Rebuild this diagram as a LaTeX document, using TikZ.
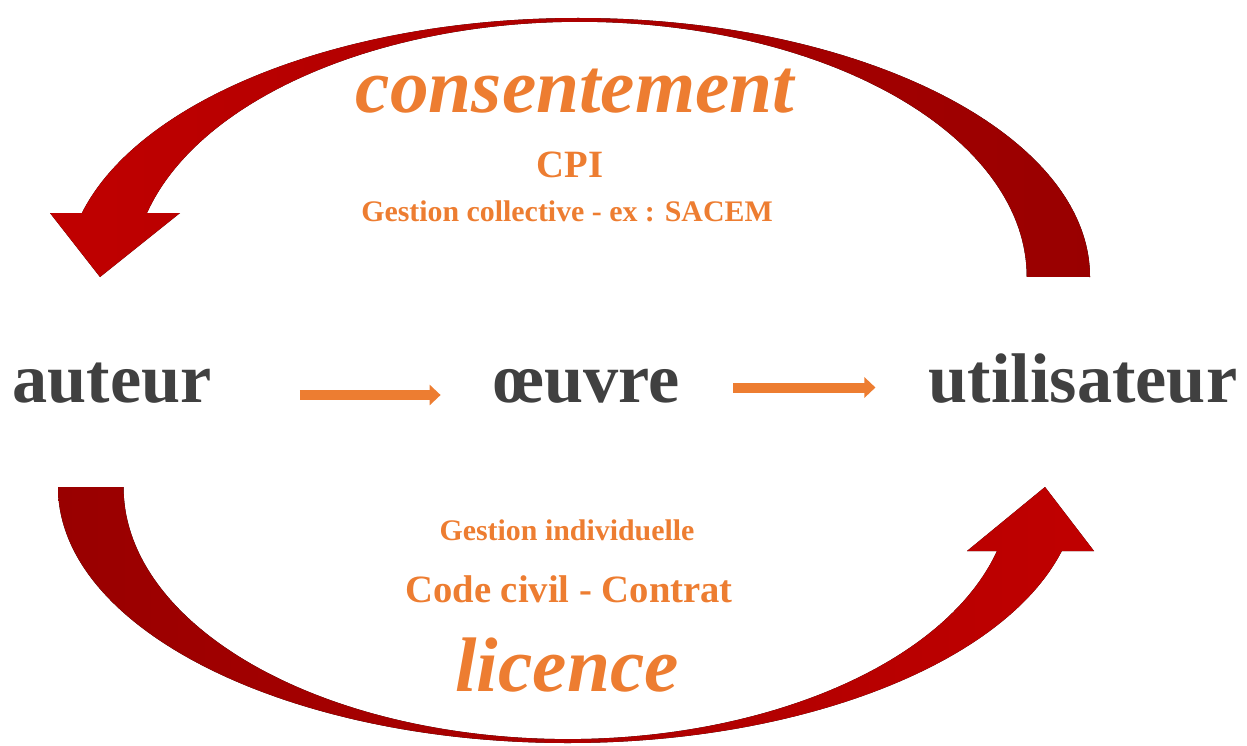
\documentclass[tikz,border=0pt]{standalone}
\usepackage{fontspec}
\setmainfont{Liberation Serif}
\usetikzlibrary{arrows.meta}
\definecolor{arcred}{RGB}{192,0,0}
\definecolor{arcdark}{RGB}{153,0,0}
\definecolor{flow}{RGB}{237,125,49}
\definecolor{ink}{RGB}{64,64,64}
\tikzset{
  party/.style={inner sep=0pt, anchor=base, text=ink, font=\fontsize{40}{48}\selectfont\bfseries},
  term/.style={inner sep=0pt, anchor=base, text=flow, font=\fontsize{44}{52}\selectfont\bfseries\itshape},
  note/.style={inner sep=0pt, anchor=base, text=flow, font=\fontsize{17}{20}\selectfont\bfseries},
  flowline/.style={color=flow, line width=0.2cm, -{Triangle[length=0.22cm,width=0.4cm]}},
}
\begin{document}
\begin{tikzpicture}[x=0.02cm,y=0.02cm]
  \useasboundingbox (0,0) rectangle (1247,745);

  \fill[left color=arcred, right color=arcdark]
    (1090,468) arc[start angle=0, end angle=165.7, x radius=512, y radius=259]
    -- (50,532) -- (100,468) -- (180,532) -- (147,532)
    arc[start angle=165.5, end angle=0, x radius=447, y radius=255] -- cycle;
  \fill[left color=arcdark, right color=arcred]
    (58,258) arc[start angle=180, end angle=345.5, x radius=510, y radius=256]
    -- (1094,194) -- (1045,258) -- (967,194) -- (997,194)
    arc[start angle=345.3, end angle=180, x radius=444, y radius=252] -- cycle;

  \node[party] (A) at (112,343) {auteur};
  \node[party] (O) at (587,343) {œuvre};
  \node[party] (U) at (1083,343) {utilisateur};

  \node[term] (C) at (575,632) {consentement};
  \node[note, font=\fontsize{22}{26}\selectfont\bfseries] (P) at (570,567) {CPI};
  \node[note] (G) at (567,523) {Gestion collective - ex : SACEM};

  \node[note] (I) at (567,205) {Gestion individuelle};
  \node[note, font=\fontsize{22}{26}\selectfont\bfseries] (K) at (569,143) {Code civil - Contrat};
  \node[term] (L) at (567,54) {licence};

  \path[flowline]
    ([yshift=0.14cm]A.base east) edge[shorten <=1.76cm, shorten >=1.06cm] ([yshift=0.14cm]O.base west)
    ([yshift=0.29cm]O.base east) edge[shorten <=1.06cm, shorten >=1.06cm] ([yshift=0.29cm]U.base west);
\end{tikzpicture}
\end{document}
